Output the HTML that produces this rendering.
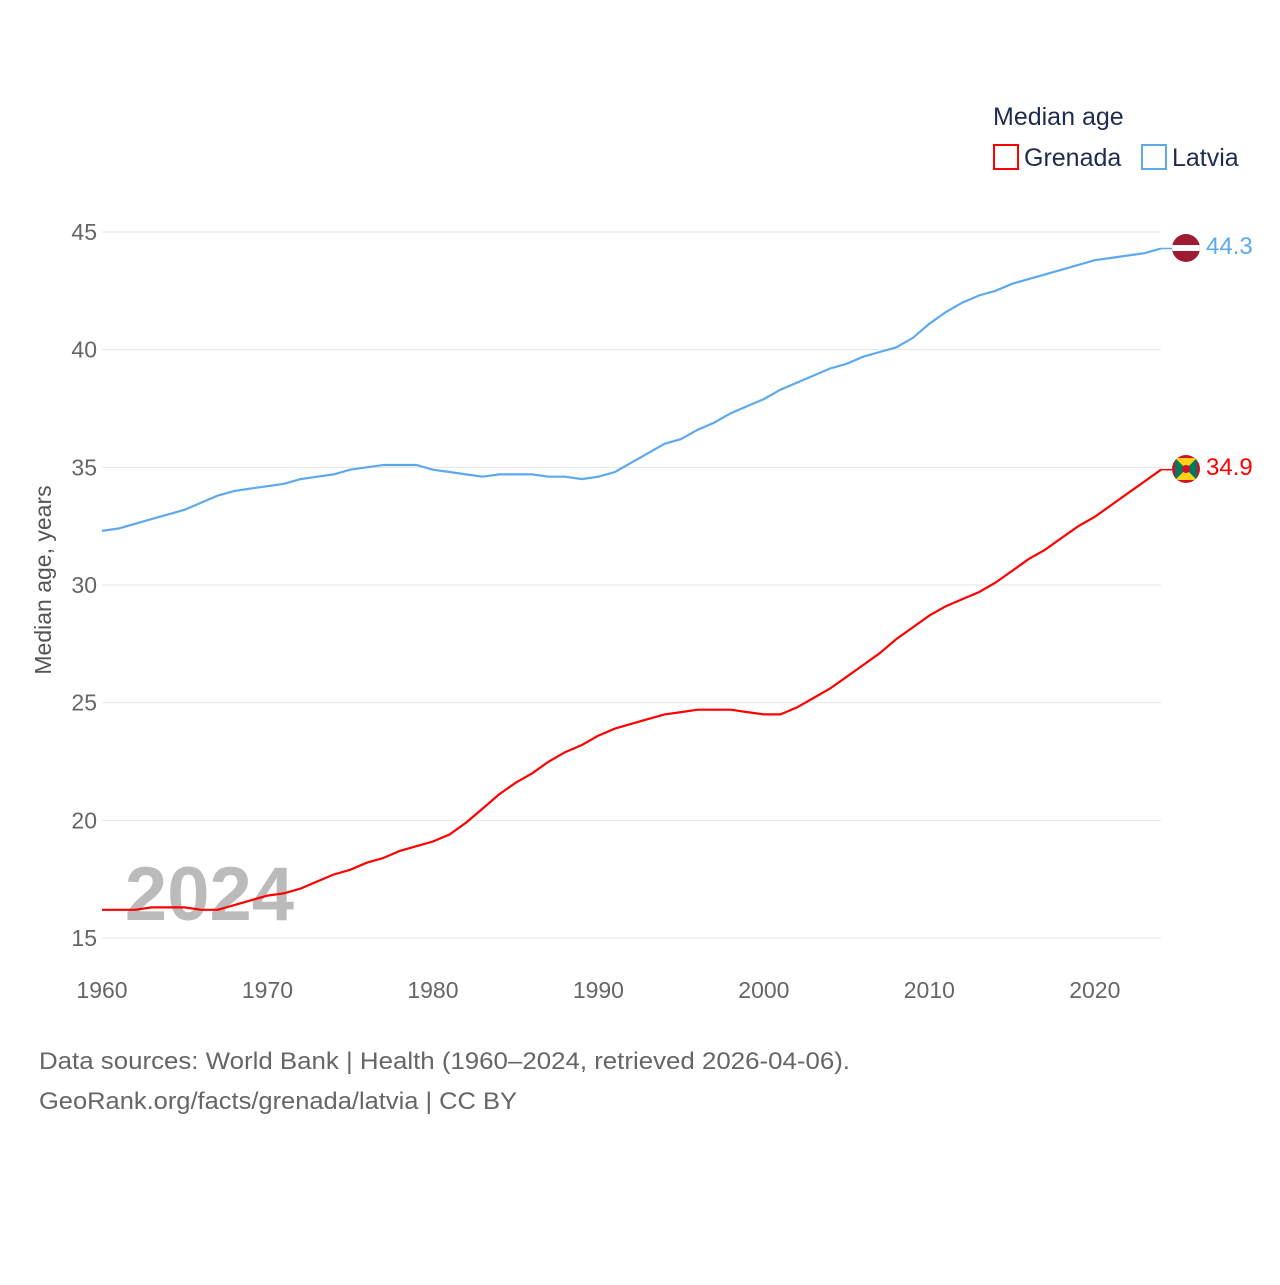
<!DOCTYPE html>
<html><head><meta charset="utf-8"><style>
body{margin:0;background:#fff;font-family:"Liberation Sans",sans-serif}
svg text{font-family:"Liberation Sans",sans-serif}
</style></head><body>
<svg id="chart" width="1280" height="1280" xmlns="http://www.w3.org/2000/svg">
<text x="993" y="125" font-size="25" fill="#1d2b4f">Median age</text>
<g><rect x="994" y="145" width="24" height="24" fill="none" stroke="#f00" stroke-width="2"/><text x="1024" y="166" font-size="25" fill="#1d2b4f">Grenada</text></g>
<g><rect x="1142" y="145" width="24" height="24" fill="none" stroke="#5ea9ee" stroke-width="2"/><text x="1172" y="166" font-size="25" fill="#1d2b4f">Latvia</text></g>
<g id="grid"></g>
<text x="294" y="920" font-size="76" font-weight="bold" fill="#bbb" text-anchor="end">2024</text>
<g id="series"></g>
<text transform="translate(51,580) rotate(-90)" font-size="23" fill="#555" text-anchor="middle">Median age, years</text>
<text x="39" y="1069" font-size="24" fill="#666" textLength="811" lengthAdjust="spacingAndGlyphs">Data sources: World Bank | Health (1960–2024, retrieved 2026-04-06).</text>
<text x="39" y="1109" font-size="24" fill="#666" textLength="478" lengthAdjust="spacingAndGlyphs">GeoRank.org/facts/grenada/latvia | CC BY</text>
<g><clipPath id="c1"><circle cx="1186" cy="248" r="14"/></clipPath><g clip-path="url(#c1)"><rect x="1170" y="232" width="32" height="32" fill="#9e1b32"/><rect x="1170" y="245" width="32" height="6" fill="#fff"/></g></g>
<g><clipPath id="c2"><circle cx="1186" cy="469" r="14"/></clipPath><g clip-path="url(#c2)"><rect x="1170" y="453" width="32" height="32" fill="#ce1126"/><polygon points="1175,458 1197,458 1186,469" fill="#fcd116"/><polygon points="1175,480 1197,480 1186,469" fill="#fcd116"/><polygon points="1175,458 1175,480 1186,469" fill="#007a5e"/><polygon points="1197,458 1197,480 1186,469" fill="#007a5e"/><circle cx="1186" cy="469" r="4" fill="#ce1126"/></g></g>
<text x="1206" y="254" font-size="24" fill="#5ea9ee">44.3</text>
<text x="1206" y="475" font-size="24" fill="#f00">34.9</text>
</svg>
<script>
const years=[];for(let y=1960;y<=2024;y++)years.push(y);
const latvia=[32.3,32.4,32.6,32.8,33.0,33.2,33.5,33.8,34.0,34.1,34.2,34.3,34.5,34.6,34.7,34.9,35.0,35.1,35.1,35.1,34.9,34.8,34.7,34.6,34.7,34.7,34.7,34.6,34.6,34.5,34.6,34.8,35.2,35.6,36.0,36.2,36.6,36.9,37.3,37.6,37.9,38.3,38.6,38.9,39.2,39.4,39.7,39.9,40.1,40.5,41.1,41.6,42.0,42.3,42.5,42.8,43.0,43.2,43.4,43.6,43.8,43.9,44.0,44.1,44.3];
const grenada=[16.2,16.2,16.2,16.3,16.3,16.3,16.2,16.2,16.4,16.6,16.8,16.9,17.1,17.4,17.7,17.9,18.2,18.4,18.7,18.9,19.1,19.4,19.9,20.5,21.1,21.6,22.0,22.5,22.9,23.2,23.6,23.9,24.1,24.3,24.5,24.6,24.7,24.7,24.7,24.6,24.5,24.5,24.8,25.2,25.6,26.1,26.6,27.1,27.7,28.2,28.7,29.1,29.4,29.7,30.1,30.6,31.1,31.5,32.0,32.5,32.9,33.4,33.9,34.4,34.9];
const yTicks=[15,20,25,30,35,40,45];
const xTicks=[1960,1970,1980,1990,2000,2010,2020];
const NS="http://www.w3.org/2000/svg";
const X=y=>102+(y-1960)*(1161-102)/64;
const Y=v=>938-(v-15)*(938-232)/30;
const grid=document.getElementById('grid'),ser=document.getElementById('series');
function mk(tag,attrs,parent){const e=document.createElementNS(NS,tag);for(const k in attrs)e.setAttribute(k,attrs[k]);parent.appendChild(e);return e;}
yTicks.forEach(t=>{
 const l=mk('line',{x1:102,x2:1161,y1:Y(t),y2:Y(t),stroke:'#e6e6e6','stroke-width':1},grid);
 
 
 const tx=mk('text',{x:97,y:Y(t)+8,'font-size':23,fill:'#666','text-anchor':'end'},grid);tx.textContent=t;
 
 
});
xTicks.forEach(t=>{
 const tx=mk('text',{x:X(t),y:998,'font-size':23,fill:'#666','text-anchor':'middle'},grid);tx.textContent=t;
 
 
});
function line(vals,color,name){
 const d=vals.map((v,i)=>(i?'L':'M')+X(years[i]).toFixed(1)+','+Y(v).toFixed(1)).join(' ');
 const p=mk('path',{d:d,fill:'none',stroke:color,'stroke-width':2.2},ser);
 
 
 mk('line',{x1:X(2024),x2:1172,y1:Y(vals[vals.length-1]),y2:Y(vals[vals.length-1]),stroke:color,'stroke-width':1.5},ser);
}
line(latvia,'#5ea9ee','latvia-line');
line(grenada,'#f00','grenada-line');
</script>
</body></html>
